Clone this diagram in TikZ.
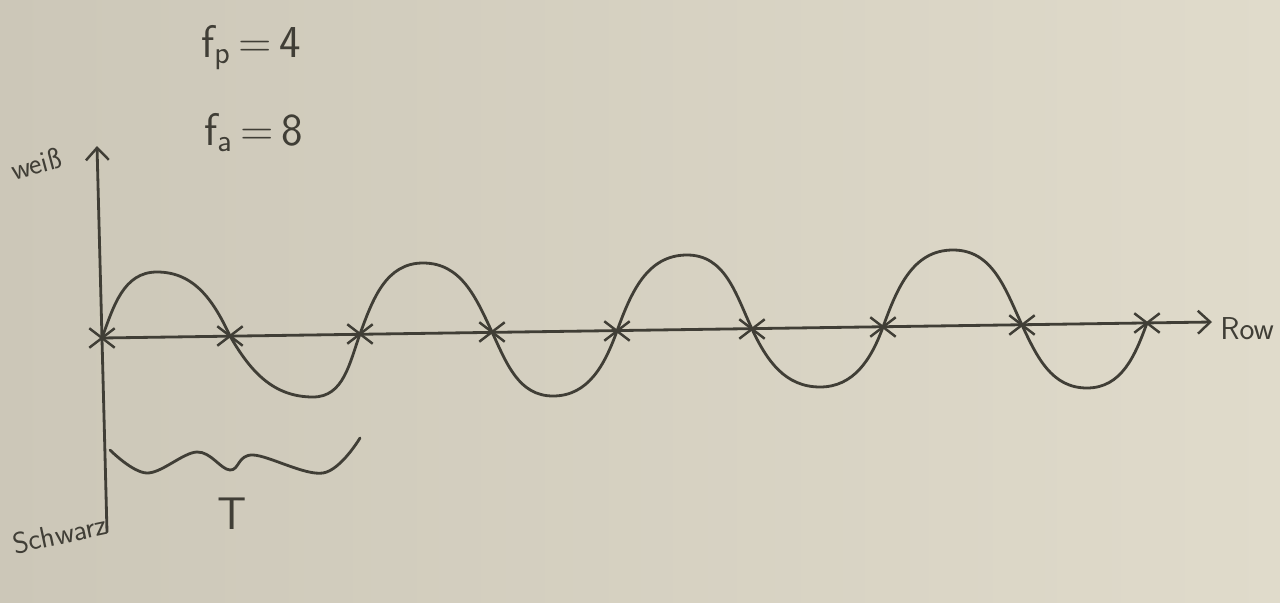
\documentclass[tikz,border=0pt]{standalone}
\usetikzlibrary{arrows.meta,shapes.misc}
\definecolor{paper}{RGB}{224,219,203}
\definecolor{paperdark}{RGB}{204,199,184}
\definecolor{pencil}{RGB}{64,62,54}
\tikzset{
  pencil/.style={draw=pencil, line width=1.6pt, line cap=round, line join=round},
  axis/.style={pencil, -{Straight Barb[length=7pt,width=13pt,line width=1.4pt]}},
  crossmark/.style={cross out, draw=pencil, line width=1.4pt, minimum width=0.46cm, minimum height=0.34cm, inner sep=0pt},
  hand/.style={text=pencil, font=\sffamily}
}
\begin{document}
\begin{tikzpicture}[x=0.2mm,y=0.2mm]
\shade[left color=paperdark,right color=paper] (0,0) rectangle (1280,602);
\useasboundingbox (0,0) rectangle (1280,602);
% frequencies
\node[hand, anchor=base west, font=\sffamily\fontsize{26}{30}\selectfont] (fp) at (195,545) {f\textsubscript{p}\,=\,4};
\node[hand, anchor=base west, font=\sffamily\fontsize{26}{30}\selectfont] (fa) at (198,457) {f\textsubscript{a}\,=\,8};
% axes
\coordinate (ybot) at (107,70);
\coordinate (ytop) at (97,456);
\coordinate (xend) at (1212,280);
\node[hand, rotate=15, font=\sffamily\fontsize{17}{20}\selectfont] (white) at (36,438) {weiß};
\node[hand, rotate=12, font=\sffamily\fontsize{17}{20}\selectfont] (black) at (60,68) {Schwarz};
\node[hand, anchor=west, inner sep=0pt, font=\sffamily\fontsize{18}{22}\selectfont] (row) at (1220,273) {Row};
% sample points
\node[crossmark] (c0) at (102,264) {};
\node[crossmark] (c1) at (230,266) {};
\node[crossmark] (c2) at (360,268) {};
\node[crossmark] (c3) at (492,270) {};
\node[crossmark] (c4) at (617,271) {};
\node[crossmark] (c5) at (752,273) {};
\node[crossmark] (c6) at (883,275) {};
\node[crossmark] (c7) at (1022,277) {};
\node[crossmark] (c8) at (1147,279) {};
\draw[axis] (ybot) -- (ytop);
\draw[axis] (c0.center) -- (xend);
% peaks and troughs
\coordinate (p1) at (157,330);
\coordinate (t1) at (313,205);
\coordinate (p2) at (423,339);
\coordinate (t2) at (553,206);
\coordinate (p3) at (687,347);
\coordinate (t3) at (820,215);
\coordinate (p4) at (953,352);
\coordinate (t4) at (1087,214);
\draw[pencil] (c0.center) to[out=70,in=180] (p1) to[out=0,in=115] (c1.center)
  to[out=-60,in=180] (t1) to[out=0,in=-110] (c2.center)
  to[out=70,in=180] (p2) to[out=0,in=115] (c3.center)
  to[out=-65,in=180] (t2) to[out=0,in=-110] (c4.center)
  to[out=70,in=180] (p3) to[out=0,in=115] (c5.center)
  to[out=-65,in=180] (t3) to[out=0,in=-110] (c6.center)
  to[out=70,in=180] (p4) to[out=0,in=115] (c7.center)
  to[out=-65,in=180] (t4) to[out=0,in=-110] (c8.center);
% period
\draw[pencil] plot[smooth, tension=0.6] coordinates {(110,152) (147,129) (197,150) (230,132) (253,147) (323,129) (360,164)};
\node[hand, font=\sffamily\fontsize{26}{30}\selectfont] (period) at (232,88) {T};
\end{tikzpicture}
\end{document}
